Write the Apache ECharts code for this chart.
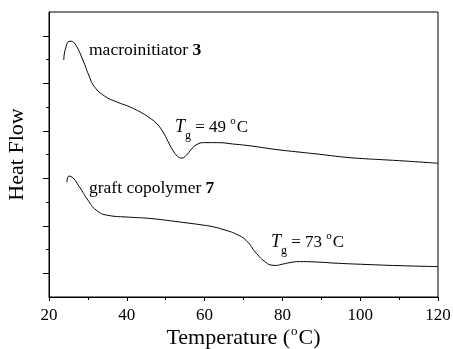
<!DOCTYPE html>
<html><head><meta charset="utf-8">
<script src="https://cdn.jsdelivr.net/npm/echarts@6/dist/echarts.min.js"></script>
<style>html,body{margin:0;padding:0;background:#fff}#c{width:453px;height:349px}</style>
</head><body><div id="c"></div>
<script>
// Data
var temps1 = [23.8, 24.2, 25.4, 26.6, 28.7, 30.2, 31.7, 34.3, 37.3, 40.7, 44.1, 45.8, 47.7, 49.3, 50.6, 51.8, 53.0, 54.2, 55.2, 56.6, 58.0, 60.0, 63.0, 68.0, 71.5, 78.4, 84.4, 89.5, 96.4, 101.4, 105.8, 112.0, 120.0];
var heat1  = [9.98, 10.43, 10.77, 10.68, 9.98, 9.35, 8.85, 8.46, 8.22, 8.01, 7.73, 7.55, 7.3, 6.95, 6.55, 6.19, 5.93, 5.85, 5.95, 6.22, 6.42, 6.5, 6.5, 6.43, 6.37, 6.21, 6.1, 6.01, 5.88, 5.82, 5.78, 5.72, 5.63];
var temps2 = [24.6, 25.1, 25.7, 27.8, 30.0, 32.1, 35.1, 40.7, 45.8, 53.5, 59.5, 62.1, 65.0, 68.1, 70.7, 73.3, 75.8, 77.3, 78.4, 79.7, 82.0, 84.4, 90.4, 93.0, 101.5, 110.0, 120.0];
var heat2  = [4.83, 5.09, 5.07, 4.64, 4.08, 3.66, 3.44, 3.36, 3.31, 3.16, 3.03, 2.96, 2.83, 2.65, 2.38, 1.84, 1.45, 1.34, 1.33, 1.37, 1.45, 1.49, 1.46, 1.43, 1.37, 1.32, 1.28];
var xTicks = [20, 40, 60, 80, 100, 120];
var yMajorTicks = [1, 3, 5, 7, 9, 11];
var yMinorTicks = [2, 4, 6, 8, 10];
var seriesNames = ['macroinitiator 3', 'graft copolymer 7'];

function pairs(xs, ys){ return xs.map(function(x,i){ return [x, ys[i]]; }); }

var FONT = '"Liberation Serif", "Times New Roman", serif';
var chart = echarts.init(document.getElementById('c'), null, {renderer:'canvas'});
var supRich = {
  n: {fontFamily: FONT, fontSize: 22, color: '#000'},
  o: {fontFamily: FONT, fontSize: 13, color: '#000', padding: [0,1,14,1]}
};
var tgRich = {
  T: {fontFamily: FONT, fontSize: 18, fontStyle: 'italic', color: '#000'},
  g: {fontFamily: FONT, fontSize: 12, color: '#000', padding: [16,0,0,0]},
  n: {fontFamily: FONT, fontSize: 17, color: '#000'},
  o: {fontFamily: FONT, fontSize: 11, color: '#000', padding: [0,1,12,0]}
};
chart.setOption({
  animation: false,
  backgroundColor: '#fff',
  grid: {left: 49, top: 12, width: 389, height: 285, show: true, borderColor: '#000', borderWidth: 1,
         containLabel: false, outerBoundsMode: 'none'},
  xAxis: {
    type: 'value', min: 20, max: 120, interval: 20,
    axisLine: {lineStyle: {color: '#000', width: 1}},
    axisTick: {length: 4, lineStyle: {color: '#000'}},
    minorTick: {show: true, splitNumber: 2, length: 3, lineStyle: {color: '#000'}},
    splitLine: {show: false},
    axisLabel: {color: '#000', fontFamily: FONT, fontSize: 17, margin: 10, customValues: xTicks},
    name: '{n|Temperature (}{o|o}{n|C)}',
    nameLocation: 'middle', nameGap: 28, nameMoveOverlap: false,
    nameTextStyle: {rich: supRich}
  },
  yAxis: [{
    type: 'value', min: 0, max: 12, position: 'left',
    axisLine: {show: true, lineStyle: {color: '#000', width: 1}},
    axisTick: {show: true, length: 6, customValues: yMajorTicks, lineStyle: {color: '#000'}},
    axisLabel: {show: false},
    splitLine: {show: false},
    name: 'Heat Flow', nameLocation: 'middle', nameGap: 21, nameMoveOverlap: false,
    nameTextStyle: {fontFamily: FONT, fontSize: 22, color: '#000'}
  }, {
    type: 'value', min: 0, max: 12, position: 'left', offset: 0,
    axisLine: {show: false},
    axisTick: {show: true, length: 3, customValues: yMinorTicks, lineStyle: {color: '#000'}},
    axisLabel: {show: false},
    splitLine: {show: false}
  }],
  series: [
    {name: seriesNames[0], type: 'line', data: pairs(temps1, heat1), showSymbol: false, smooth: 0.5,
     lineStyle: {color: '#000', width: 1}},
    {name: seriesNames[1], type: 'line', data: pairs(temps2, heat2), showSymbol: false, smooth: 0.5,
     lineStyle: {color: '#000', width: 1}}
  ],
  graphic: [
    {type: 'text', left: 89, top: 41, style: {text: '{n|macroinitiator }{b|3}', rich: {
      n: {fontFamily: FONT, fontSize: 17.5, color: '#000'}, b: {fontFamily: FONT, fontSize: 17.5, fontWeight: 'bold', color: '#000'}}}},
    {type: 'text', left: 89, top: 179, style: {text: '{n|graft copolymer }{b|7}', rich: {
      n: {fontFamily: FONT, fontSize: 17.5, color: '#000'}, b: {fontFamily: FONT, fontSize: 17.5, fontWeight: 'bold', color: '#000'}}}},
    {type: 'text', left: 175, top: 116, style: {text: '{T|T}{g|g}{n| = 49 }{o|o}{n|C}', rich: tgRich}},
    {type: 'text', left: 271, top: 231, style: {text: '{T|T}{g|g}{n| = 73 }{o|o}{n|C}', rich: tgRich}}
  ]
});
</script></body></html>
